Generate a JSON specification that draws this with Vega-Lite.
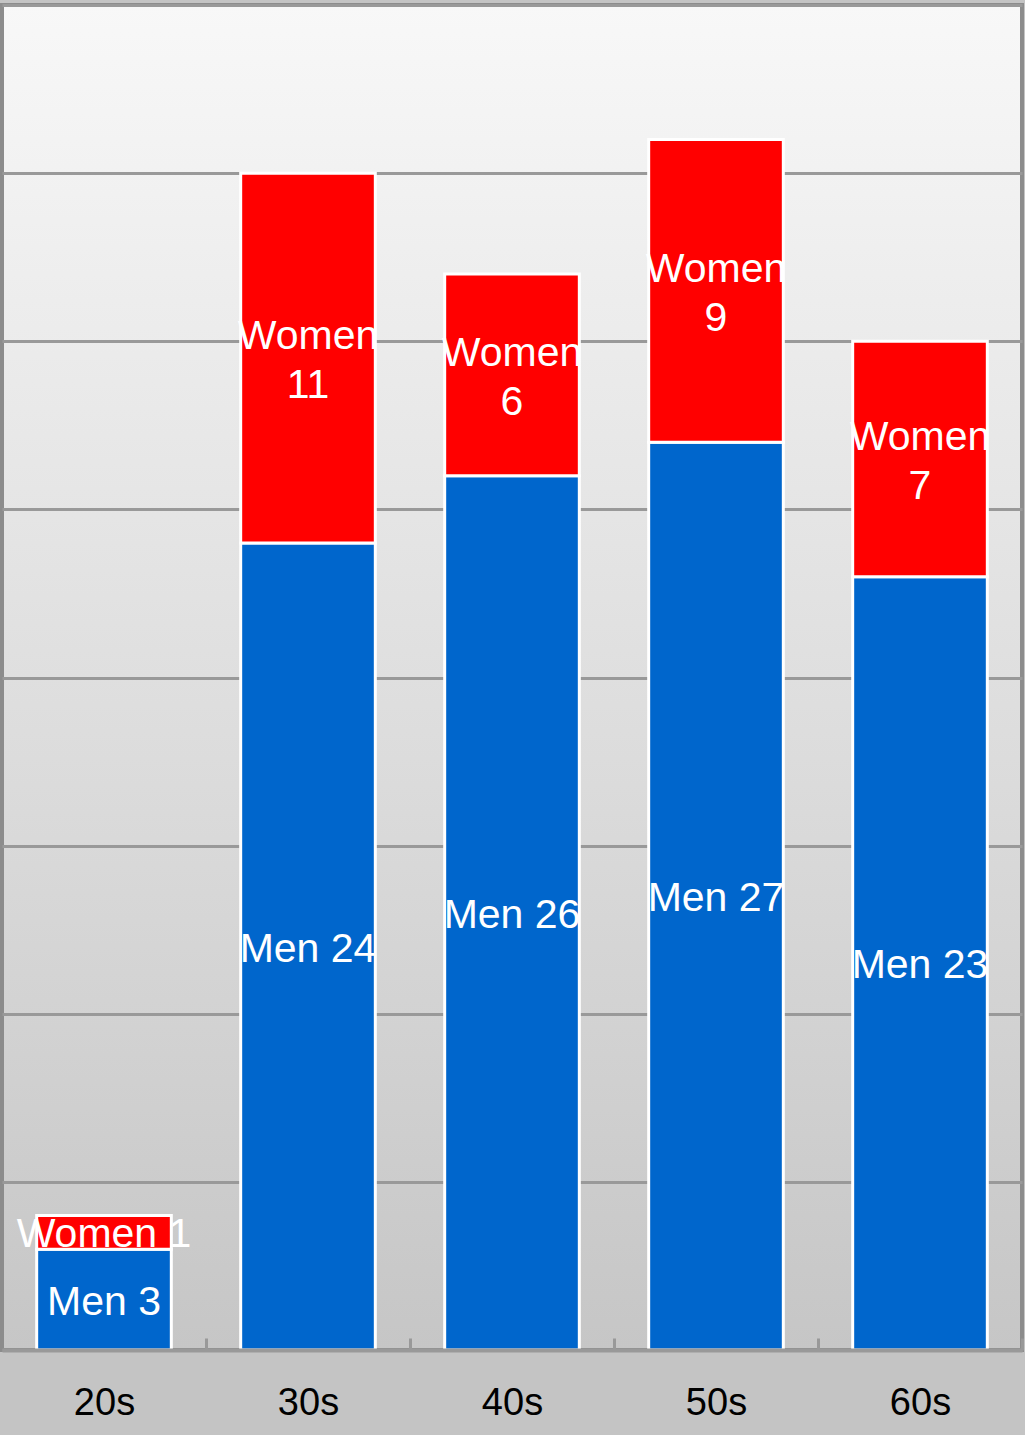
{
  "$schema": "https://vega.github.io/schema/vega-lite/v6.json",
  "width": 1020,
  "height": 1345,
  "autosize": {"type": "none"},
  "padding": {"left": 2, "top": 5, "right": 3, "bottom": 85},
  "background": "#c4c4c4",
  "config": {
    "view": {
      "fill": {"gradient": "linear", "x1": 0, "y1": 0, "x2": 0, "y2": 1,
        "stops": [{"offset": 0, "color": "#f8f8f8"}, {"offset": 1, "color": "#c6c6c6"}]},
      "stroke": "#8c8c8c",
      "strokeWidth": 4
    },
    "font": "Liberation Sans"
  },
  "data": {
    "values": [
      {"age": "20s", "sex": "Men", "count": 3, "label": "Men 3"},
      {"age": "20s", "sex": "Women", "count": 1, "label": "Women 1"},
      {"age": "30s", "sex": "Men", "count": 24, "label": "Men 24"},
      {"age": "30s", "sex": "Women", "count": 11, "label": "Women\n11"},
      {"age": "40s", "sex": "Men", "count": 26, "label": "Men 26"},
      {"age": "40s", "sex": "Women", "count": 6, "label": "Women\n6"},
      {"age": "50s", "sex": "Men", "count": 27, "label": "Men 27"},
      {"age": "50s", "sex": "Women", "count": 9, "label": "Women\n9"},
      {"age": "60s", "sex": "Men", "count": 23, "label": "Men 23"},
      {"age": "60s", "sex": "Women", "count": 7, "label": "Women\n7"}
    ]
  },
  "transform": [
    {"stack": "count", "groupby": ["age"], "sort": [{"field": "sex", "order": "ascending"}], "as": ["y0", "y1"]}
  ],
  "encoding": {
    "x": {
      "field": "age", "type": "nominal", "sort": null,
      "scale": {"paddingInner": 0.34, "paddingOuter": 0.17},
      "axis": {
        "title": null, "labelAngle": 0, "labelFontSize": 38, "labelColor": "#000000",
        "labelPadding": 46, "tickOffset": 102, "labelOffset": -102, "tickSize": -12, "tickColor": "#999999",
        "tickWidth": 3, "domainColor": "#999999", "domainWidth": 4, "grid": false, "zindex": 1
      }
    }
  },
  "layer": [
    {
      "mark": {"type": "bar", "stroke": "#ffffff", "strokeWidth": 3},
      "encoding": {
        "y": {
          "field": "y0", "type": "quantitative",
          "scale": {"domain": [0, 40], "nice": false},
          "axis": {"title": null, "labels": false, "ticks": false, "domain": false,
            "values": [0, 5, 10, 15, 20, 25, 30, 35, 40], "gridColor": "#999999", "gridWidth": 3, "gridOpacity": 1}
        },
        "y2": {"field": "y1"},
        "color": {
          "field": "sex", "type": "nominal",
          "scale": {"domain": ["Men", "Women"], "range": ["#0066cc", "#ff0000"]},
          "legend": null
        }
      }
    },
    {
      "transform": [
        {"filter": "datum.sex == 'Men' || datum.age == '20s'"},
        {"fold": ["y0", "y1"], "as": ["edge", "pos"]},
        {"aggregate": [{"op": "mean", "field": "pos", "as": "mid"}], "groupby": ["age", "sex", "label"]}
      ],
      "mark": {"type": "text", "color": "#ffffff", "fontSize": 41, "baseline": "middle", "align": "center", "dy": 3},
      "encoding": {
        "y": {"field": "mid", "type": "quantitative"},
        "text": {"field": "label"}
      }
    },
    {
      "transform": [
        {"filter": "datum.sex == 'Women' && datum.age != '20s'"},
        {"fold": ["y0", "y1"], "as": ["edge", "pos"]},
        {"aggregate": [{"op": "mean", "field": "pos", "as": "mid"}], "groupby": ["age", "sex", "label"]}
      ],
      "mark": {"type": "text", "color": "#ffffff", "fontSize": 41, "lineBreak": "\n", "lineHeight": 49, "baseline": "middle", "align": "center", "dy": -21},
      "encoding": {
        "y": {"field": "mid", "type": "quantitative"},
        "text": {"field": "label"}
      }
    }
  ]
}
